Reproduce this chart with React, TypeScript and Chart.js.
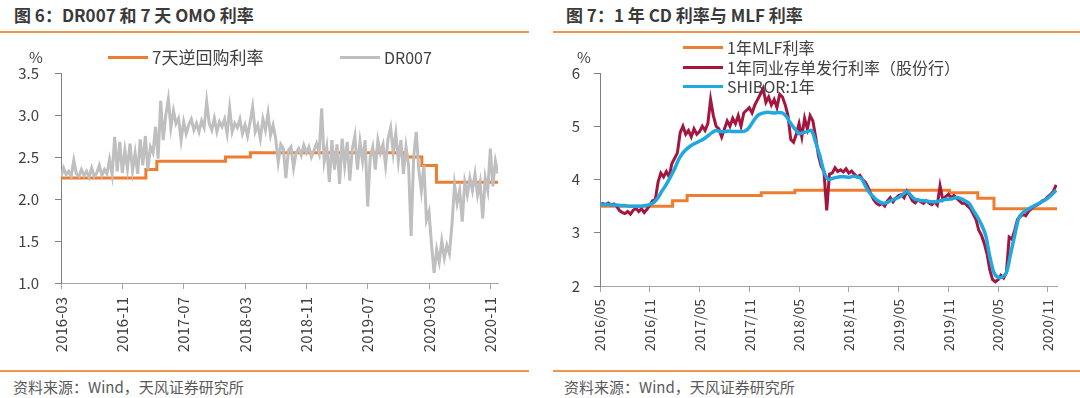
import React, { useEffect, useRef } from "react";
import { Chart, registerables } from "chart.js";

Chart.register(...registerables);

const FONT = '"Noto Sans CJK SC", "Noto Sans", sans-serif';

// ---------- Left chart: DR007 & 7-day OMO ----------
// months counted from 2016-03
const omoChangeMonths = [0, 11.07, 12.5, 21.45, 24.7, 44.6, 47.07, 48.97, 57];
const omoRates = [2.25, 2.35, 2.45, 2.5, 2.55, 2.5, 2.4, 2.2, 2.2];
// DR007 sampled every ~10 days (3 per month) from 2016-03
const dr007Values = [
  2.27, 2.37, 2.29, 2.33, 2.27, 2.46, 2.3, 2.27, 2.35, 2.28, 2.33, 2.26,
  2.37, 2.27, 2.31, 2.4, 2.28, 2.35, 2.3, 2.47, 2.29, 2.74, 2.33, 2.68,
  2.31, 2.58, 2.36, 2.66, 2.34, 2.55, 2.3, 2.71, 2.4, 2.75, 2.35, 2.62,
  2.55, 2.86, 2.48, 3.17, 2.7, 3.0, 3.19, 2.85, 3.05, 2.9, 2.96, 2.7,
  2.92, 2.78, 2.88, 2.95, 2.82, 2.9, 2.8, 2.93, 2.85, 3.16, 2.9, 2.82,
  2.96, 2.8, 2.92, 2.86, 2.95, 2.78, 3.08, 2.8, 2.9, 2.85, 2.95, 2.78,
  2.88, 2.75, 2.92, 3.1, 2.8, 2.88, 2.72, 2.95, 2.82, 3.02, 2.76, 2.88,
  2.72, 2.44, 2.65, 2.6, 2.25, 2.58, 2.62, 2.37, 2.55, 2.6, 2.52, 2.64,
  2.55, 2.62, 2.5, 2.58, 2.66, 2.55, 3.08, 2.45, 2.62, 2.2, 2.7, 2.35,
  2.65, 2.18, 2.72, 2.4, 2.68, 2.22, 2.6, 2.75, 2.35, 2.68, 2.45, 2.7,
  1.91, 2.5, 2.62, 2.35, 2.7, 2.55, 2.65, 2.4, 2.72, 2.85, 2.55, 2.78,
  2.45, 2.7, 2.3, 2.62, 2.4, 1.56, 2.5, 2.8, 2.35, 2.1, 2.4, 1.75,
  1.85, 1.45, 1.12, 1.4, 1.25, 1.5, 1.3, 1.45, 1.35, 1.7, 2.17, 1.95,
  2.1, 1.73, 2.2, 2.05, 2.25, 2.1, 2.3, 2.05, 2.2, 1.77, 2.25, 2.1,
  2.6, 2.15, 2.45, 2.3,
];
const leftTickMonths = [0, 8, 16, 24, 32, 40, 48, 56];
const leftTickLabels = ["2016-03", "2016-11", "2017-07", "2018-03", "2018-11", "2019-07", "2020-03", "2020-11"];
const leftYTicks = [1.0, 1.5, 2.0, 2.5, 3.0, 3.5];

// ---------- Right chart: 1Y CD vs MLF ----------
// months counted from 2016-05
const mlfChangeMonths = [0, 8.75, 10.5, 19.45, 23.5, 42.13, 45.55, 47.5, 55.1];
const mlfRates = [3.5, 3.6, 3.7, 3.75, 3.8, 3.75, 3.65, 3.45, 3.45];
// 1Y interbank CD issuance rate (joint-stock banks), 3 samples per month
const cdValues = [
  3.52, 3.55, 3.53, 3.56, 3.52, 3.54, 3.5, 3.42, 3.38, 3.36, 3.4, 3.35,
  3.42, 3.46, 3.4, 3.45, 3.38, 3.44, 3.52, 3.6, 3.62, 3.95, 4.12, 4.05,
  4.15, 4.05, 4.3, 4.4, 4.5, 4.88, 5.0, 4.85, 4.92, 4.8, 4.95, 4.85,
  4.9, 5.0, 4.92, 5.05, 5.5, 5.2, 5.0, 4.95, 4.8, 4.95, 5.1, 5.0,
  5.15, 5.05, 5.2, 5.0, 5.25, 5.3, 5.35, 5.25, 5.4, 5.5, 5.6, 5.71,
  5.45, 5.55, 5.4, 5.5, 5.35, 5.6, 5.55, 5.4, 5.2, 4.75, 4.7, 4.85,
  5.05, 4.8, 5.15, 4.95, 5.2, 5.1, 4.8, 4.45, 4.25, 4.15, 3.42, 4.1,
  4.12, 4.22, 4.15, 4.18, 4.14, 4.2, 4.12, 4.16, 4.1, 4.05, 4.08, 4.0,
  3.95, 3.85, 3.72, 3.62, 3.55, 3.52, 3.55, 3.5, 3.6, 3.66, 3.58, 3.65,
  3.7, 3.72, 3.66, 3.78, 3.7, 3.6, 3.56, 3.62, 3.58, 3.55, 3.6, 3.56,
  3.53, 3.58, 3.52, 3.88, 3.62, 3.68, 3.72, 3.66, 3.7, 3.65, 3.6, 3.55,
  3.56, 3.5, 3.45, 3.35, 3.25, 3.05, 2.95, 2.8, 2.6, 2.3, 2.12, 2.08,
  2.12, 2.2, 2.15, 2.25, 2.92, 2.88, 3.05, 3.25, 3.3, 3.35, 3.32, 3.4,
  3.45, 3.5, 3.52, 3.55, 3.6, 3.62, 3.68, 3.72, 3.78, 3.9,
];
// SHIBOR 1Y, 2 samples per month
const shiborValues = [
  3.54, 3.53, 3.53, 3.52, 3.52, 3.51, 3.51, 3.5, 3.5, 3.5, 3.5, 3.51,
  3.53, 3.57, 3.66, 3.79, 3.91, 4.05, 4.2, 4.38, 4.5, 4.58, 4.64, 4.68,
  4.72, 4.76, 4.82, 4.88, 4.92, 4.9, 4.9, 4.91, 4.9, 4.9, 4.9, 4.91,
  4.98, 5.1, 5.2, 5.24, 5.26, 5.26, 5.25, 5.26, 5.25, 5.18, 5.05, 4.95,
  4.86, 4.88, 4.9, 4.92, 4.7, 4.45, 4.15, 4.0, 4.02, 4.04, 4.05, 4.05,
  4.04, 4.06, 4.05, 4.02, 3.88, 3.75, 3.67, 3.6, 3.56, 3.56, 3.6, 3.63,
  3.66, 3.72, 3.78, 3.7, 3.63, 3.61, 3.6, 3.59, 3.58, 3.58, 3.6, 3.62,
  3.63, 3.64, 3.66, 3.64, 3.6, 3.55, 3.42, 3.3, 3.15, 2.95, 2.55, 2.25,
  2.16, 2.17, 2.25, 2.6, 2.95, 3.28, 3.38, 3.43, 3.48, 3.52, 3.56, 3.6,
  3.65, 3.72, 3.8,
];
const rightTickMonths = [0, 6, 12, 18, 24, 30, 36, 42, 48, 54];
const rightTickLabels = ["2016/05", "2016/11", "2017/05", "2017/11", "2018/05", "2018/11", "2019/05", "2019/11", "2020/05", "2020/11"];
const rightYTicks = [2, 3, 4, 5, 6];

const ORANGE = "#ED7D31";
const GRAY = "#BFBFBF";
const RED = "#A5163F";
const BLUE = "#1FA9E1";
const RULE = "#F0954A";
const TEXT = "#404040";

function pairs(xs: number[], ys: number[]) {
  return xs.map((x, i) => ({ x, y: ys[i] }));
}
function sampled(vals: number[], perMonth: number) {
  return vals.map((v, i) => ({ x: i / perMonth, y: v }));
}

function makeScales(opts: {
  xMax: number;
  xTicks: number[];
  xLabels: string[];
  yMin: number;
  yMax: number;
  yTicks: number[];
  yDigits: number;
  yWidth: number;
  xHeight: number;
  yPad: number;
  xPad: number;
  xFont: number;
}) {
  return {
    x: {
      type: "linear" as const,
      min: 0,
      max: opts.xMax,
      afterBuildTicks: (s: any) => {
        s.ticks = opts.xTicks.map((v) => ({ value: v }));
      },
      afterFit: (s: any) => {
        s.height = opts.xHeight;
      },
      ticks: {
        autoSkip: false,
        minRotation: 90,
        maxRotation: 90,
        padding: opts.xPad,
        color: TEXT,
        font: { family: FONT, size: opts.xFont },
        callback: (v: any) => {
          const i = opts.xTicks.indexOf(Number(v));
          return i >= 0 ? opts.xLabels[i] : "";
        },
      },
      grid: { drawOnChartArea: false, drawTicks: true, tickLength: 6, color: "#A6A6A6" },
      border: { display: true, color: "#A6A6A6", width: 1 },
    },
    y: {
      type: "linear" as const,
      min: opts.yMin,
      max: opts.yMax,
      afterBuildTicks: (s: any) => {
        s.ticks = opts.yTicks.map((v) => ({ value: v }));
      },
      afterFit: (s: any) => {
        s.width = opts.yWidth;
      },
      ticks: {
        padding: opts.yPad,
        color: TEXT,
        font: { family: FONT, size: 15 },
        callback: (v: any) => Number(v).toFixed(opts.yDigits),
      },
      grid: { drawOnChartArea: false, drawTicks: true, tickLength: 6, color: "#808080" },
      border: { display: true, color: "#808080", width: 1 },
    },
  };
}

function LeftChart() {
  const ref = useRef<HTMLCanvasElement>(null);
  useEffect(() => {
    const chart = new Chart(ref.current!, {
      type: "line",
      data: {
        datasets: [
          {
            label: "DR007",
            data: sampled(dr007Values, 3),
            borderColor: GRAY,
            borderWidth: 3,
            pointRadius: 0,
            tension: 0,
            order: 0,
          },
          {
            label: "7天逆回购利率",
            data: pairs(omoChangeMonths, omoRates),
            borderColor: ORANGE,
            borderWidth: 3,
            pointRadius: 0,
            stepped: true,
            order: 1,
          },
        ],
      },
      options: {
        animation: false,
        responsive: false,
        maintainAspectRatio: false,
        layout: { padding: { left: 0, top: 38, right: 42, bottom: 0 } },
        plugins: { legend: { display: false }, tooltip: { enabled: false } },
        scales: makeScales({
          xMax: 57,
          xTicks: leftTickMonths,
          xLabels: leftTickLabels,
          yMin: 1,
          yMax: 3.5,
          yTicks: leftYTicks,
          yDigits: 1,
          yWidth: 61,
          xHeight: 82,
          yPad: 16,
          xPad: 8,
          xFont: 15,
        }) as any,
      },
    });
    return () => chart.destroy();
  }, []);
  return <canvas ref={ref} width={540} height={330} style={{ position: "absolute", left: 0, top: 35 }} />;
}

function RightChart() {
  const ref = useRef<HTMLCanvasElement>(null);
  useEffect(() => {
    const chart = new Chart(ref.current!, {
      type: "line",
      data: {
        datasets: [
          {
            label: "SHIBOR:1年",
            data: sampled(shiborValues, 2),
            borderColor: BLUE,
            borderWidth: 3.5,
            pointRadius: 0,
            tension: 0.3,
            order: 0,
          },
          {
            label: "1年同业存单发行利率（股份行）",
            data: sampled(cdValues, 3),
            borderColor: RED,
            borderWidth: 3,
            pointRadius: 0,
            tension: 0,
            order: 1,
          },
          {
            label: "1年MLF利率",
            data: pairs(mlfChangeMonths, mlfRates),
            borderColor: ORANGE,
            borderWidth: 3,
            pointRadius: 0,
            stepped: true,
            order: 2,
          },
        ],
      },
      options: {
        animation: false,
        responsive: false,
        maintainAspectRatio: false,
        layout: { padding: { left: 0, top: 38, right: 23, bottom: 0 } },
        plugins: { legend: { display: false }, tooltip: { enabled: false } },
        scales: makeScales({
          xMax: 55.1,
          xTicks: rightTickMonths,
          xLabels: rightTickLabels,
          yMin: 2,
          yMax: 6,
          yTicks: rightYTicks,
          yDigits: 0,
          yWidth: 60,
          xHeight: 79,
          yPad: 14,
          xPad: 7,
          xFont: 14,
        }) as any,
      },
    });
    return () => chart.destroy();
  }, []);
  return <canvas ref={ref} width={540} height={330} style={{ position: "absolute", left: 540, top: 35 }} />;
}

const abs = (s: React.CSSProperties): React.CSSProperties => ({ position: "absolute", whiteSpace: "nowrap", ...s });

function LegendItem({ x, y, color, text, size = 16 }: { x: number; y: number; color: string; text: string; size?: number }) {
  return (
    <>
      <div style={abs({ left: x, top: y - 1.5, width: 40, height: 3, background: color })} />
      <div style={abs({ left: x + 44, top: y - 12, height: 24, lineHeight: "24px", fontSize: size, color: TEXT, fontFamily: FONT })}>{text}</div>
    </>
  );
}

export default function App() {
  return (
    <div style={{ position: "absolute", left: 0, top: 0, width: 1080, height: 398, background: "#fff", overflow: "hidden", fontFamily: FONT }}>
      {/* Left panel */}
      <div style={abs({ left: 14, top: 3, height: 24, lineHeight: "24px", fontSize: 17, fontWeight: 700, color: "#3A3A3A" })}>
        图 6：DR007 和 7 天 OMO 利率
      </div>
      <div style={abs({ left: 0, top: 31, width: 529, height: 2, background: RULE })} />
      <LeftChart />
      <div style={abs({ left: 29, top: 46, height: 22, lineHeight: "22px", fontSize: 15, color: TEXT })}>%</div>
      <LegendItem x={108} y={57} color={ORANGE} text="7天逆回购利率" size={17} />
      <LegendItem x={340} y={57} color={GRAY} text="DR007" size={16} />
      <div style={abs({ left: 0, top: 370, width: 529, height: 2, background: RULE })} />
      <div style={abs({ left: 13, top: 376, height: 22, lineHeight: "22px", fontSize: 15, color: "#595959" })}>
        资料来源：Wind，天风证券研究所
      </div>

      {/* Right panel */}
      <div style={abs({ left: 566, top: 3, height: 24, lineHeight: "24px", fontSize: 17, fontWeight: 700, color: "#3A3A3A" })}>
        图 7：1 年 CD 利率与 MLF 利率
      </div>
      <div style={abs({ left: 553, top: 31, width: 527, height: 2, background: RULE })} />
      <RightChart />
      <div style={abs({ left: 577, top: 46, height: 22, lineHeight: "22px", fontSize: 15, color: TEXT })}>%</div>
      <LegendItem x={683} y={47} color={ORANGE} text="1年MLF利率" />
      <LegendItem x={683} y={67} color={RED} text="1年同业存单发行利率（股份行）" />
      <LegendItem x={683} y={86} color={BLUE} text="SHIBOR:1年" />
      <div style={abs({ left: 553, top: 370, width: 527, height: 2, background: RULE })} />
      <div style={abs({ left: 564, top: 376, height: 22, lineHeight: "22px", fontSize: 15, color: "#595959" })}>
        资料来源：Wind，天风证券研究所
      </div>
    </div>
  );
}
